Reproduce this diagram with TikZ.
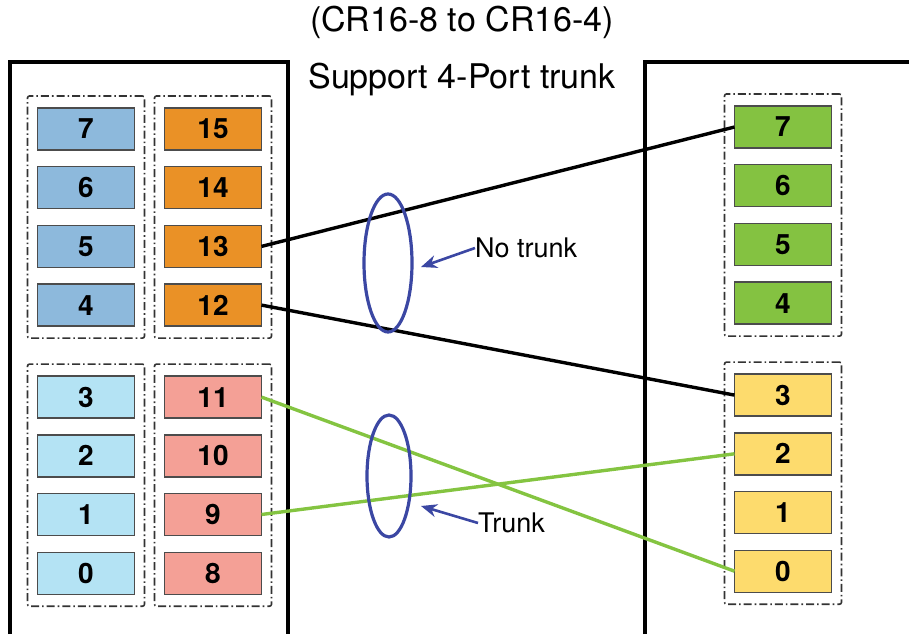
\documentclass[tikz,border=0pt]{standalone}
\usepackage{fontspec}
\setmainfont{TeX Gyre Heros}
\usetikzlibrary{arrows.meta, positioning, shapes.geometric, fit}
\definecolor{portblue}{RGB}{141,185,220}
\definecolor{portorange}{RGB}{234,145,38}
\definecolor{portcyan}{RGB}{180,227,244}
\definecolor{portsalmon}{RGB}{244,160,150}
\definecolor{portgreen}{RGB}{132,194,65}
\definecolor{portyellow}{RGB}{253,219,109}
\definecolor{ringblue}{RGB}{59,71,163}
\definecolor{linkgreen}{RGB}{132,196,65}

\begin{document}
\begin{tikzpicture}[x=1pt, y=-1pt,
  port/.style={rectangle, draw=black!70, line width=1.4pt, minimum width=97pt,
               minimum height=42pt, inner sep=0pt, outer sep=0pt,
               font=\fontsize{28}{30}\selectfont\bfseries},
  group/.style={draw=black!80, dash pattern=on 8pt off 3pt on 1.6pt off 3pt,
                line width=1.6pt, rounded corners=2pt, inner xsep=10pt, inner ysep=12pt},
  chassis/.style={line width=3.6pt},
  link/.style={line width=3.4pt},
  ring/.style={ellipse, draw=ringblue, line width=3.2pt, inner sep=0pt},
  arrow/.style={-{Stealth[length=16pt,width=13pt]}, draw=ringblue, line width=2.6pt},
  label/.style={font=\fontsize{27}{30}\selectfont, inner sep=0pt, anchor=west},
  node distance=16.7pt
]
\useasboundingbox (0,0) rectangle (909,634);

% titles
\node[font=\fontsize{34}{38}\selectfont] (title) at (462,22) {(CR16-8 to CR16-4)};
\node[font=\fontsize{34}{38}\selectfont] (subtitle) at (462,80) {Support 4-Port trunk};

% chassis outlines
\draw[chassis] (10,634) -- (10,62) -- (288,62) -- (288,634);
\draw[chassis] (645,634) -- (645,62) -- (909,62);

% left card, ports 7..0
\node[port, fill=portblue] (l7) at (86,129) {7};
\node[port, fill=portblue, below=of l7] (l6) {6};
\node[port, fill=portblue, below=of l6] (l5) {5};
\node[port, fill=portblue, below=of l5] (l4) {4};
\node[port, fill=portcyan, below=50pt of l4] (l3) {3};
\node[port, fill=portcyan, below=of l3] (l2) {2};
\node[port, fill=portcyan, below=of l2] (l1) {1};
\node[port, fill=portcyan, below=of l1] (l0) {0};

% left card, ports 15..8
\node[port, fill=portorange, right=30pt of l7] (l15) {15};
\node[port, fill=portorange, below=of l15] (l14) {14};
\node[port, fill=portorange, below=of l14] (l13) {13};
\node[port, fill=portorange, below=of l13] (l12) {12};
\node[port, fill=portsalmon, below=50pt of l12] (l11) {11};
\node[port, fill=portsalmon, below=of l11] (l10) {10};
\node[port, fill=portsalmon, below=of l10] (l9) {9};
\node[port, fill=portsalmon, below=of l9] (l8) {8};

% right card
\node[port, fill=portgreen] (r7) at (783,127) {7};
\node[port, fill=portgreen, below=of r7] (r6) {6};
\node[port, fill=portgreen, below=of r6] (r5) {5};
\node[port, fill=portgreen, below=of r5] (r4) {4};
\node[port, fill=portyellow, below=50pt of r4] (r3) {3};
\node[port, fill=portyellow, below=of r3] (r2) {2};
\node[port, fill=portyellow, below=of r2] (r1) {1};
\node[port, fill=portyellow, below=of r1] (r0) {0};

% port groups
\node[group, fit=(l7)(l4)] (gA) {};
\node[group, fit=(l3)(l0)] (gB) {};
\node[group, fit=(l15)(l12)] (gC) {};
\node[group, fit=(l11)(l8)] (gD) {};
\node[group, fit=(r7)(r4)] (gE) {};
\node[group, fit=(r3)(r0)] (gF) {};

% links
\draw[link] (l13.east) -- (r7.west);
\draw[link] (l12.east) -- (r3.west);
\draw[link, draw=linkgreen] (l11.east) -- (r0.west);
\draw[link, draw=linkgreen] (l9.east) -- (r2.west);

% rings and labels
\node[ring, minimum width=48pt, minimum height=138pt] (upring) at (388,263) {};
\node[ring, minimum width=44pt, minimum height=122pt] (lowring) at (389,476) {};
\node[label] (notrunk) at (475,248) {No trunk};
\node[label] (trunk) at (478,523) {Trunk};
\coordinate (uptip) at (421,267);
\coordinate (lowtip) at (421,506);
\draw[arrow] (notrunk.west) -- (uptip);
\draw[arrow] (trunk.west) -- (lowtip);
\end{tikzpicture}
\end{document}
